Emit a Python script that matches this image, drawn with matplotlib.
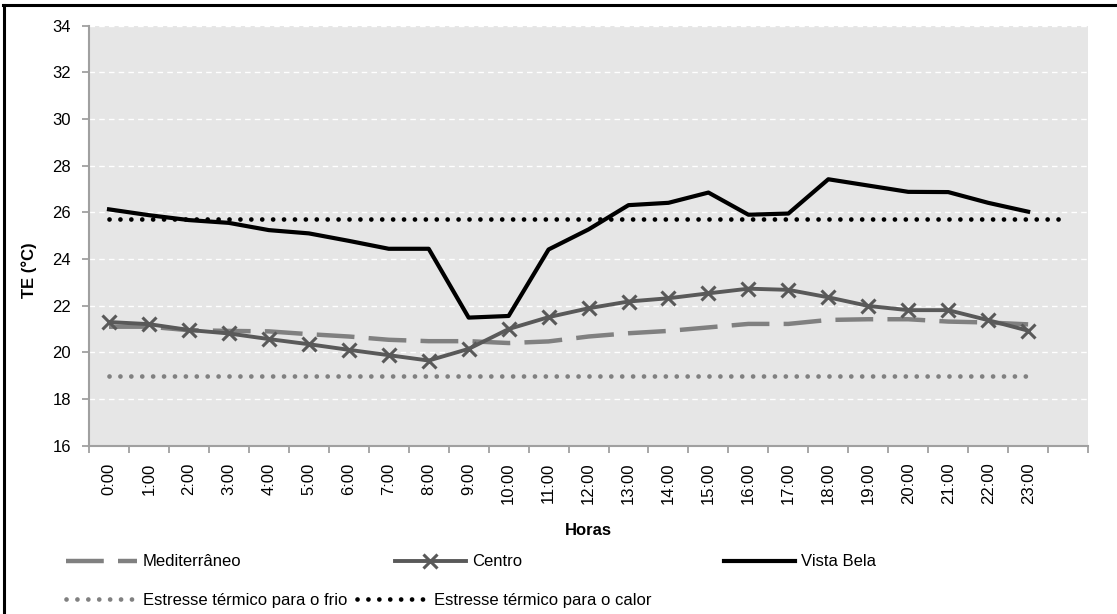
import matplotlib.pyplot as plt
from matplotlib.lines import Line2D

plt.rcParams['font.family'] = ['Liberation Sans', 'DejaVu Sans']

horas = [f"{h}:00" for h in range(24)]

mediterraneo = [21.10, 21.10, 20.95, 20.92, 20.90, 20.78, 20.68, 20.54, 20.48, 20.48,
                20.40, 20.47, 20.68, 20.82, 20.92, 21.07, 21.22, 21.22, 21.39, 21.42,
                21.42, 21.32, 21.28, 21.20]
centro = [21.30, 21.21, 20.96, 20.81, 20.57, 20.35, 20.11, 19.88, 19.65, 20.15,
          21.00, 21.51, 21.89, 22.18, 22.32, 22.53, 22.73, 22.68, 22.36, 21.99,
          21.81, 21.81, 21.38, 20.93]
vista_bela = [26.13, 25.88, 25.67, 25.55, 25.24, 25.10, 24.78, 24.44, 24.44, 21.49,
              21.56, 24.41, 25.27, 26.31, 26.41, 26.85, 25.90, 25.95, 27.42, 27.15,
              26.88, 26.87, 26.41, 26.03]
# limites de estresse termico
frio = [19.0] * 24
calor = [25.7] * 25

fig = plt.figure(figsize=(11.17, 6.14), dpi=100)
ax = fig.add_axes([0.0797, 0.2741, 0.8944, 0.6840])
ax.set_facecolor('#e6e6e6')

l_med, = ax.plot(range(24), mediterraneo, color='#808080', lw=3.2,
                 linestyle=(0, (8.5, 3.2)), label='Mediterrâneo')
l_cen, = ax.plot(range(24), centro, color='#595959', lw=2.8, marker='x',
                 markersize=10, markeredgewidth=2.2, label='Centro')
l_vb, = ax.plot(range(24), vista_bela, color='black', lw=3.0, label='Vista Bela')
l_frio, = ax.plot(range(24), frio, color='#808080', lw=3.4,
                  linestyle=(0, (0.01, 2.3)), dash_capstyle='round',
                  label='Estresse térmico para o frio')
l_calor, = ax.plot(range(25), calor, color='black', lw=3.4,
                   linestyle=(0, (0.01, 2.3)), dash_capstyle='round',
                   label='Estresse térmico para o calor')

ax.set_xlim(-0.5, 24.5)
ax.set_ylim(16, 34)
ax.set_yticks(range(16, 35, 2))
ax.set_xticks(range(24))
ax.set_xticklabels(horas, rotation=90, fontsize=12)
ax.set_xticks([i - 0.5 for i in range(26)], minor=True)
ax.tick_params(axis='x', which='major', length=0, pad=12)
ax.tick_params(axis='x', which='minor', length=5, width=1.3, color='#a0a0a0')
ax.tick_params(axis='y', length=5, width=1.3, color='#a0a0a0', labelsize=12, pad=8)

for side in ['top', 'right']:
    ax.spines[side].set_visible(False)
for side in ['left', 'bottom']:
    ax.spines[side].set_color('#a0a0a0')
    ax.spines[side].set_linewidth(1.5)

ax.yaxis.grid(True, color='white', linestyle=(0, (4, 3)), lw=1.0)
ax.set_axisbelow(True)

ax.set_ylabel('TE (°C)', fontsize=12, fontweight='bold')
ax.yaxis.set_label_coords(-0.052, 0.418)
ax.set_xlabel('Horas', fontsize=12, fontweight='bold')
ax.xaxis.set_label_coords(0.5, -0.184)

# legenda em duas linhas, cada item posicionado separadamente
itens = [(l_med, 66, 562), (l_cen, 395, 562), (l_vb, 724, 562),
         (l_frio, 66, 600), (l_calor, 357, 600)]
for linha, px, py in itens:
    fig.legend(handles=[linha], labels=[linha.get_label()], loc='center left',
               bbox_to_anchor=(px / 1117, 1 - py / 614), frameon=False,
               borderpad=0, borderaxespad=0, handlelength=4.25,
               handletextpad=0.35, fontsize=12)

# moldura do grafico
fig.add_artist(Line2D([0.0027, 1], [1 - 4.5 / 614] * 2, color='black', lw=2.2))
fig.add_artist(Line2D([4 / 1117] * 2, [0, 1 - 4.5 / 614], color='black', lw=2.2))

fig.savefig('out.png', dpi=100)
